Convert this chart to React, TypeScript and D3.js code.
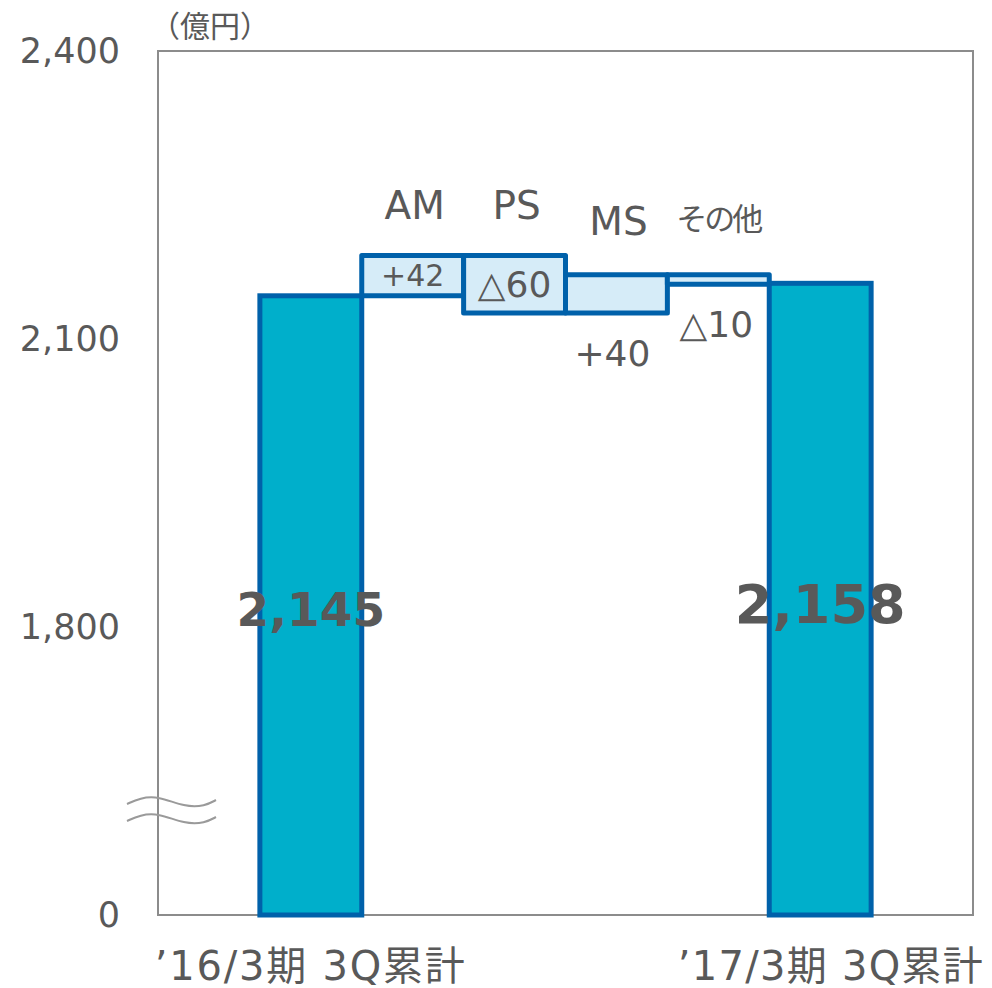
import React from "react";
import * as d3 from "d3";

// Categories along the x axis (start total, segment changes, end total)
const categories = ["’16/3期 3Q累計", "AM", "PS", "MS", "その他", "’17/3期 3Q累計"];
const startTotal = 2145;
const endTotal = 2158;
const deltas = [42, -60, 40, -10];
const deltaLabels = ["+42", "△60", "+40", "△10"];
const deltaLabelPlacement = ["inside", "inside", "below", "below"];
const totalLabels = ["2,145", "2,158"];

// Axis: broken scale, lowest tick stands for 0
const tickValues = [0, 1800, 2100, 2400];
const tickLabels = ["0", "1,800", "2,100", "2,400"];
const unitLabel = "（億円）";

const W = 992;
const H = 988;
const plot = { left: 158, right: 973, top: 51, bottom: 915 };

const DARK = "#0061AA";
const BAR = "#00AFCB";
const LIGHT = "#D6ECF8";
const TEXT = "#595959";
const GRID = "#8C8C8C";
const LATIN = "'DejaVu Sans', 'Noto Sans CJK JP', sans-serif";
const CJK = "'Noto Sans CJK JP', sans-serif";

export default function App() {
  const x = d3
    .scaleBand<string>()
    .domain(categories)
    .range([plot.left, plot.right])
    .paddingInner(0)
    .paddingOuter(1);

  const y = d3.scaleLinear().domain([1500, 2400]).range([plot.bottom, plot.top]);
  const yPos = (v: number) => (v <= 1500 ? y(1500) : y(v));

  // running totals for floating boxes
  let run = startTotal;
  const steps = deltas.map((d, i) => {
    const from = run;
    run += d;
    return { cat: categories[i + 1], from, to: run, label: deltaLabels[i], place: deltaLabelPlacement[i] };
  });

  const bw = x.bandwidth();
  const breakY = y(1500) - 114;
  const wave = (yy: number) => {
    const line = d3.line<[number, number]>().curve(d3.curveBasis);
    return line([
      [127, yy + 3],
      [140, yy - 3],
      [158, yy - 5],
      [185, yy + 6],
      [205, yy + 5],
      [216, yy - 1],
    ]) as string;
  };

  const totals = [
    { cat: categories[0], v: startTotal, label: totalLabels[0], size: 47, dy: 0 },
    { cat: categories[5], v: endTotal, label: totalLabels[1], size: 54, dy: -5 },
  ];

  return (
    <svg
      width={W}
      height={H}
      style={{ position: "absolute", left: 0, top: 0, background: "#fff" }}
    >
      {/* plot frame */}
      <rect
        x={plot.left}
        y={plot.top}
        width={plot.right - plot.left}
        height={plot.bottom - plot.top}
        fill="none"
        stroke={GRID}
        strokeWidth={2}
      />

      {/* y tick labels */}
      {tickValues.map((t, i) => (
        <text
          key={t}
          x={120}
          y={yPos(t)}
          textAnchor="end"
          dominantBaseline="central"
          fontFamily={LATIN}
          fontSize={35}
          fill={TEXT}
        >
          {tickLabels[i]}
        </text>
      ))}
      <text x={150} y={37} fontFamily={CJK} fontSize={30} fill={TEXT}>
        {unitLabel}
      </text>

      {/* axis break marks */}
      <path d={wave(breakY)} fill="none" stroke="#9a9a9a" strokeWidth={2} />
      <path d={wave(breakY + 17)} fill="none" stroke="#9a9a9a" strokeWidth={2} />

      {/* total bars */}
      {totals.map((t) => (
        <rect
          key={t.cat}
          x={x(t.cat)!}
          y={y(t.v)}
          width={bw}
          height={y(1500) - y(t.v)}
          fill={BAR}
          stroke={DARK}
          strokeWidth={5}
        />
      ))}

      {/* change boxes */}
      {steps.map((s) => (
        <rect
          key={s.cat}
          x={x(s.cat)!}
          y={y(Math.max(s.from, s.to))}
          width={bw}
          height={Math.abs(y(s.from) - y(s.to))}
          fill={LIGHT}
          stroke={DARK}
          strokeWidth={5}
          strokeLinejoin="round"
        />
      ))}

      {/* change value labels */}
      {steps.map((s) => {
        const top = y(Math.max(s.from, s.to));
        const bottom = y(Math.min(s.from, s.to));
        const cx = x(s.cat)! + bw / 2;
        const inside = s.place === "inside";
        const ty = inside ? (top + bottom) / 2 : bottom + 40;
        const size = s.cat === "AM" ? 30 : 36;
        const dx = s.cat === "MS" ? -4 : s.cat === "その他" ? -2 : 0;
        return (
          <text
            key={s.cat}
            x={cx + dx}
            y={ty}
            textAnchor="middle"
            dominantBaseline="central"
            fontFamily={LATIN}
            fontSize={size}
            fill={TEXT}
          >
            {s.label}
          </text>
        );
      })}

      {/* segment names */}
      {steps.map((s) => {
        const top = y(Math.max(s.from, s.to));
        const cx = x(s.cat)! + bw / 2;
        const isCjk = /[^\x00-\x7f]/.test(s.cat);
        const lift = isCjk ? 45 : s.cat === "MS" ? 40 : 36;
        return (
          <text
            key={s.cat}
            x={cx + (isCjk ? 0 : 2)}
            y={top - lift}
            textAnchor="middle"
            fontFamily={isCjk ? CJK : LATIN}
            fontSize={isCjk ? 31 : 39}
            fill={TEXT}
            letterSpacing={isCjk ? -3 : 0}
          >
            {s.cat}
          </text>
        );
      })}

      {/* total labels */}
      {totals.map((t) => (
        <text
          key={t.cat}
          x={x(t.cat)! + bw / 2}
          y={y(1800) - 18 + t.dy}
          textAnchor="middle"
          dominantBaseline="central"
          fontFamily={LATIN}
          fontWeight="bold"
          fontSize={t.size}
          fill={TEXT}
        >
          {t.label}
        </text>
      ))}

      {/* x category labels for totals */}
      {[categories[0], categories[5]].map((c, i) => (
        <text
          key={c}
          x={x(c)! + bw / 2 + (i === 1 ? 10 : -1)}
          y={980}
          textAnchor="middle"
          fontFamily={LATIN}
          fontSize={40}
          fill={TEXT}
          textLength={i === 1 ? 305 : 310}
          lengthAdjust="spacing"
        >
          {c}
        </text>
      ))}
    </svg>
  );
}
